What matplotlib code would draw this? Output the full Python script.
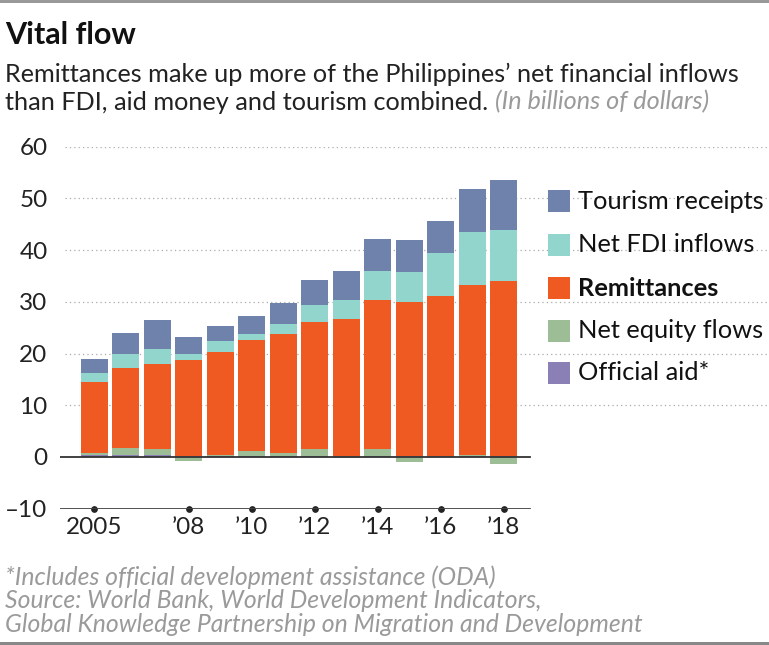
import numpy as np
import matplotlib
matplotlib.use("Agg")
import matplotlib.pyplot as plt
from matplotlib.patches import Rectangle

plt.rcParams['font.family'] = ['Lato', 'DejaVu Sans']

# values in billions of dollars
years = list(range(2005, 2019))
tourism = [2.8, 4.0, 5.6, 3.3, 2.9, 3.5, 4.1, 4.9, 5.6, 6.1, 6.3, 6.2, 8.3, 9.7]
fdi = [1.7, 2.6, 3.0, 1.2, 2.1, 1.0, 1.9, 3.2, 3.7, 5.7, 5.7, 8.3, 10.2, 9.7]
remittances = [13.7, 15.6, 16.4, 18.6, 19.8, 21.5, 23.0, 24.6, 26.6, 28.8, 29.9, 31.0, 32.8, 34.0]
equity = [0.5, 1.3, 1.1, -0.8, 0.3, 1.0, 0.6, 1.3, -0.1, 1.3, -0.9, 0.1, 0.3, -1.3]
aid = [0.3, 0.4, 0.4, 0.1, 0.15, 0.2, 0.2, 0.2, 0.1, 0.2, 0.1, 0.1, 0.15, 0.1]

tick_years = [2005, 2008, 2010, 2012, 2014, 2016, 2018]
tick_labels = ["2005", "\u201908", "\u201910", "\u201912", "\u201914", "\u201916", "\u201918"]
y_ticks = [-10, 0, 10, 20, 30, 40, 50, 60]

legend_names = ["Tourism receipts", "Net FDI inflows", "Remittances", "Net equity flows", "Official aid*"]

c_tour = "#6e82ab"
c_fdi = "#92d5cd"
c_rem = "#ef5a23"
c_eq = "#9cbd96"
c_aid = "#8b80b6"
legend_colors = [c_tour, c_fdi, c_rem, c_eq, c_aid]

fig = plt.figure(figsize=(7.69, 6.45), dpi=100)
fig.patch.set_facecolor("white")
ax = fig.add_axes([60 / 769, 0.2113, 1 - 60 / 769, 0.5613])

x = np.array(years)
w = 0.85
aid_a = np.array(aid)
eq_a = np.array(equity)
rem_a = np.array(remittances)
fdi_a = np.array(fdi)
tour_a = np.array(tourism)

eq_pos = np.where(eq_a > 0, eq_a, 0)
eq_neg = np.where(eq_a < 0, eq_a, 0)

ax.bar(x, aid_a, w, color=c_aid, zorder=3)
ax.bar(x, eq_pos, w, bottom=aid_a, color=c_eq, zorder=3)
ax.bar(x, eq_neg, w, color=c_eq, zorder=3)
base = aid_a + eq_pos
ax.bar(x, rem_a, w, bottom=base, color=c_rem, zorder=3)
base = base + rem_a
ax.bar(x, fdi_a, w, bottom=base, color=c_fdi, zorder=3)
base = base + fdi_a
ax.bar(x, tour_a, w, bottom=base, color=c_tour, zorder=3)

x0 = 2005 - (94.3 - 60) / 31.5
x1 = 2005 + (769 - 94.3) / 31.5
ax.set_xlim(x0, x1)
ax.set_ylim(-10, 60)

# dotted gridlines
for v in y_ticks[2:]:
    ax.axhline(v, xmin=5 / 709, xmax=1, color="#aaaaaa", lw=0.9,
               linestyle=(0, (1, 2.5)), zorder=1)
line_end = (530 - 60) / 709
ax.axhline(0, xmin=0, xmax=line_end, color="#333333", lw=1.3, zorder=4)
ax.axhline(-10, xmin=0, xmax=line_end, color="#444444", lw=1.3, zorder=4)

for s in ax.spines.values():
    s.set_visible(False)

ax.set_yticks(y_ticks)
ax.set_yticklabels([("\u2013" + str(-v)) if v < 0 else str(v) for v in y_ticks],
                   fontsize=17.5, color="#222222")
ax.tick_params(axis="y", length=0, pad=9)

ax.set_xticks(tick_years)
ax.set_xticklabels(tick_labels, fontsize=17.5, color="#222222")
ax.tick_params(axis="x", length=0, pad=6)
for t in ax.xaxis.get_major_ticks():
    t.tick1line.set_marker("o")
    t.tick1line.set_markersize(4)
    t.tick1line.set_markerfacecolor("#222222")
    t.tick1line.set_markeredgecolor("#222222")
    t.tick1line.set_zorder(5)

# legend drawn by hand to match the layout
rows_y = [201, 245, 288, 331, 373]
for name, col, ry in zip(legend_names, legend_colors, rows_y):
    fig.add_artist(Rectangle((548 / 769, 1 - (ry + 11) / 645), 22 / 769, 22 / 645,
                             transform=fig.transFigure, color=col, lw=0))
    fig.text(578 / 769, 1 - ry / 645, name, fontsize=18.3, va="center", ha="left",
             color="#111111", fontweight="bold" if name == "Remittances" else "normal")

# top and bottom rules
fig.add_artist(Rectangle((0, 1 - 3 / 645), 1, 3 / 645, transform=fig.transFigure,
                         color="#999999", lw=0))
fig.add_artist(Rectangle((0, 0), 1, 3 / 645, transform=fig.transFigure,
                         color="#888888", lw=0))

fig.text(5 / 769, 1 - 35 / 645, "Vital flow", fontsize=22, fontweight="bold",
         va="center", ha="left", color="#111111")
fig.text(5 / 769, 1 - 74 / 645,
         "Remittances make up more of the Philippines\u2019 net financial inflows",
         fontsize=18.2, va="center", ha="left", color="#222222")
t2 = fig.text(5 / 769, 1 - 102 / 645, "than FDI, aid money and tourism combined. ",
              fontsize=18.2, va="center", ha="left", color="#222222")
fig.canvas.draw()
bb = t2.get_window_extent()
fig.text(bb.x1 / 769, 1 - 102 / 645, "(In billions of dollars)", fontsize=18.2,
         style="italic", va="center", ha="left", color="#9a9a9a")

foot = ["*Includes official development assistance (ODA)",
        "Source: World Bank, World Development Indicators,",
        "Global Knowledge Partnership on Migration and Development"]
for i, line in enumerate(foot):
    fig.text(5 / 769, 1 - (577 + 23.5 * i) / 645, line, fontsize=17.8, style="italic",
             va="center", ha="left", color="#9a9a9a")

fig.savefig("out.png", dpi=100)
